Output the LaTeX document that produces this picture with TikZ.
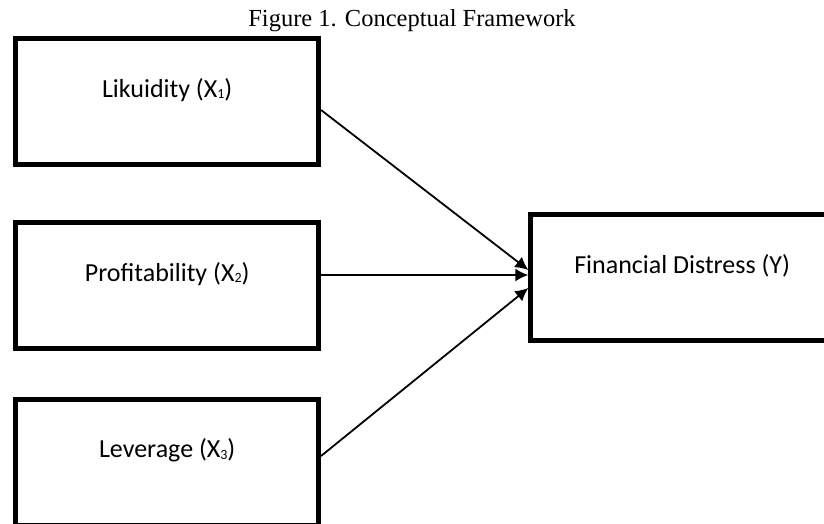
\documentclass[tikz,border=0pt]{standalone}
\usepackage{fontspec}
\setmainfont{Liberation Serif}
\newfontfamily\boxfont{Carlito}
\usepackage{tikz}
\usetikzlibrary{positioning}
\usetikzlibrary{calc}
\usetikzlibrary{arrows.meta}
\newcommand{\varsub}[1]{\raisebox{-1.5pt}{\fontsize{14}{14}\selectfont #1}}

\begin{document}
\begin{tikzpicture}[
  x=1pt, y=-1pt,
  caption/.style={font=\fontsize{24.5}{28}\selectfont, anchor=base, inner sep=0pt},
  var/.style={draw, line width=5pt, minimum width=302.7pt, minimum height=126pt,
    text height=18pt, text depth=27pt, font=\boxfont\fontsize{26}{30}\selectfont},
  link/.style={line width=1.8pt, -{Latex[length=13pt, width=13pt]}}
]
\useasboundingbox (0, 0) rectangle (824, 523);

% Caption
\node[caption] (title) at (412, 26) {Figure 1. Conceptual Framework};

% Independent variables
\node[var] (likuidity) at (167.2, 101.5) {Likuidity (X\varsub{1})};
\node[var] (profit) at (167.2, 285.8) {Profitability (X\varsub{2})};
\node[var] (leverage) at (167.2, 462) {Leverage (X\varsub{3})};

% Dependent variable
\node[var] (distress) at (682.2, 277.8) {Financial Distress (Y)};

% Edges
\draw[link] ([yshift=-8.5pt]likuidity.east) to ([yshift=7.8pt]distress.west);
\draw[link] ([yshift=10.8pt]profit.east) to ([yshift=2.8pt]distress.west);
\draw[link] ([yshift=6pt]leverage.east) to ([yshift=-10.2pt]distress.west);
\end{tikzpicture}
\end{document}
